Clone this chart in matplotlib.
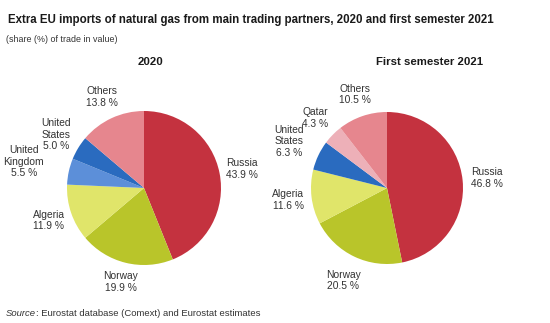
import numpy as np
import matplotlib
matplotlib.use("Agg")
import matplotlib.pyplot as plt

plt.rcParams["font.family"] = ["Liberation Sans", "DejaVu Sans"]

# shares (%) of extra-EU natural gas imports, clockwise from 12 o'clock
labels_2020 = ["Russia", "Norway", "Algeria", "United\nKingdom", "United\nStates", "Others"]
shares_2020 = [43.9, 19.9, 11.9, 5.5, 5.0, 13.8]
labels_2021 = ["Russia", "Norway", "Algeria", "United\nStates", "Qatar", "Others"]
shares_2021 = [46.8, 20.5, 11.6, 6.3, 4.3, 10.5]

COLORS = {
    "Russia": "#C4323F",
    "Norway": "#B9C52A",
    "Algeria": "#E0E56A",
    "United\nKingdom": "#5C8FD9",
    "United\nStates": "#2A6BBF",
    "Qatar": "#EDB0B8",
    "Others": "#E6868E",
}

W, H = 550, 323
fig = plt.figure(figsize=(W / 100, H / 100), dpi=100)
# one axes in pixel units (y measured up from the bottom)
ax = fig.add_axes([0, 0, 1, 1])


def draw_pie(ax, labels, shares, cx, cy, r, label_dist):
    wedges, _ = ax.pie(shares, colors=[COLORS[l] for l in labels], startangle=90,
                       counterclock=False, center=(cx, cy), radius=r, frame=True,
                       wedgeprops=dict(linewidth=0))
    for w, lab, val, d in zip(wedges, labels, shares, label_dist):
        mid = np.deg2rad((w.theta1 + w.theta2) / 2)
        x = cx + d * r * np.cos(mid)
        y = cy + d * r * np.sin(mid)
        ax.text(x, y, f"{lab}\n{val:.1f} %", ha="center", va="center",
                multialignment="center", fontsize=7.4, color="#333333",
                linespacing=1.2)


draw_pie(ax, labels_2020, shares_2020, 144, H - 188, 77,
         [1.29, 1.26, 1.31, 1.6, 1.33, 1.3])
draw_pie(ax, labels_2021, shares_2021, 387, H - 188, 76,
         [1.32, 1.35, 1.31, 1.43, 1.32, 1.3])

ax.set_xlim(0, W)
ax.set_ylim(0, H)
ax.set_aspect("equal")
ax.axis("off")

fig.text(8 / W, 1 - 20 / H,
         "Extra EU imports of natural gas from main trading partners, 2020 and first semester 2021",
         fontsize=8.3, fontweight="bold", va="center", ha="left", color="#1a1a1a")
fig.text(6 / W, 1 - 39 / H, "(share (%) of trade in value)", fontsize=6.4,
         va="center", ha="left", color="#333333")
fig.text(150 / W, 1 - 62 / H, "2020", fontsize=8.2, fontweight="bold",
         va="center", ha="center", color="#1a1a1a")
fig.text(430 / W, 1 - 62 / H, "First semester 2021", fontsize=8.2, fontweight="bold",
         va="center", ha="center", color="#1a1a1a")
src = fig.text(6 / W, 1 - 316 / H, "Source", fontsize=6.8, style="italic",
               va="baseline", ha="left", color="#333333")
# rest of the source line continues right after the italic word
ax.annotate(": Eurostat database (Comext) and Eurostat estimates", xy=(1, 0),
            xycoords=src, xytext=(-0.3, 0), textcoords="offset points",
            fontsize=6.8, va="bottom", ha="left", color="#333333")

fig.savefig("out.png", dpi=100)
